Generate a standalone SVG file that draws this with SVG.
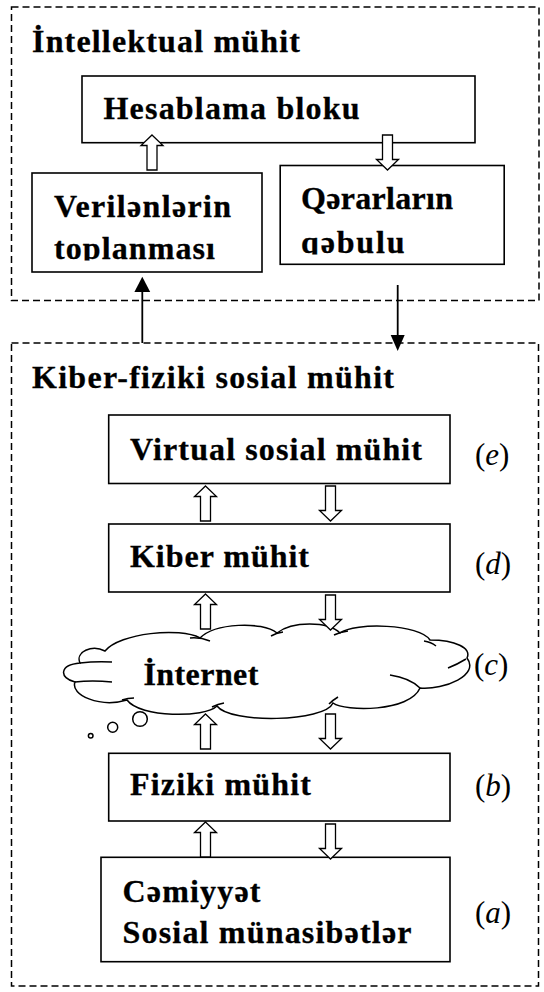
<svg xmlns="http://www.w3.org/2000/svg" xmlns:xlink="http://www.w3.org/1999/xlink" width="544" height="992" viewBox="0 0 544 992">
<style>
.bg{fill:#fff}
.box{fill:#fff;stroke:#000;stroke-width:1.6}
.dash{fill:none;stroke:#000;stroke-width:1.5;stroke-dasharray:7 4}
.t{font-family:'Liberation Serif','Times New Roman',serif;font-weight:bold;font-size:32px;fill:#000;stroke:#000;stroke-width:0.3}
.lab{font-family:'Liberation Serif','Times New Roman',serif;font-size:31px;fill:#000}
.lab tspan{font-style:italic}
.hollow{fill:#fff;stroke:#000;stroke-width:1.3;stroke-linejoin:miter}
.line{fill:none;stroke:#000;stroke-width:1.8}
.head{fill:#000}
.cloud{fill:#fff;stroke:#000;stroke-width:1.5}
.hook{fill:none;stroke:#000;stroke-width:1.5}
</style>
<defs>
<path id="up" d="M0,0 L11,10.5 L5,10.5 L5,35 L-5,35 L-5,10.5 L-11,10.5 Z"/>
<path id="down" d="M-5,0 L5,0 L5,24.5 L11,24.5 L0,35 L-11,24.5 L-5,24.5 Z"/>
<clipPath id="clipV"><rect x="30" y="170" width="235" height="90.5"/></clipPath>
<clipPath id="clipQ"><rect x="278" y="160" width="230" height="94.5"/></clipPath>
</defs>
<rect class="bg" x="0" y="0" width="544" height="992"/>

<g id="intellektual-muhit">
<rect class="dash" x="11.5" y="7" width="527.5" height="293.5"/>
<text class="t" x="32" y="52" textLength="268" lengthAdjust="spacing">İntellektual mühit</text>
</g>

<g id="hesablama-bloku">
<rect class="box" x="82" y="76" width="393" height="66.7"/>
<text class="t" x="103.5" y="119.3" textLength="256" lengthAdjust="spacing">Hesablama bloku</text>
</g>

<g id="verilenlerin-toplanmasi">
<rect class="box" x="32" y="173" width="230" height="99"/>
<text class="t" x="54" y="216.7" textLength="177" lengthAdjust="spacing">Verilənlərin</text>
<text class="t" x="54" y="259" textLength="161" lengthAdjust="spacing" clip-path="url(#clipV)">toplanması</text>
</g>

<g id="qerarlarin-qebulu">
<rect class="box" x="280.2" y="165.5" width="224" height="98.8"/>
<text class="t" x="301" y="209.3" textLength="152" lengthAdjust="spacing">Qərarların</text>
<text class="t" x="301" y="252.5" textLength="103.5" lengthAdjust="spacing" clip-path="url(#clipQ)">qəbulu</text>
</g>

<g id="kiber-fiziki-sosial-muhit">
<rect class="dash" x="11.5" y="343" width="527" height="643"/>
<text class="t" x="32" y="388.3" textLength="362" lengthAdjust="spacing">Kiber-fiziki sosial mühit</text>
</g>

<g id="virtual-sosial-muhit">
<rect class="box" x="108.7" y="415" width="341.3" height="68.5"/>
<text class="t" x="130" y="459.5" textLength="292" lengthAdjust="spacing">Virtual sosial mühit</text>
<text class="lab" x="475" y="465">(<tspan>e</tspan>)</text>
</g>

<g id="kiber-muhit">
<rect class="box" x="108.7" y="524" width="341.3" height="68"/>
<text class="t" x="130" y="567.3" textLength="179" lengthAdjust="spacing">Kiber mühit</text>
<text class="lab" x="475" y="574">(<tspan>d</tspan>)</text>
</g>

<g id="internet">
<path class="cloud" d="M80,663 C75,652 92,644 105,651 C120,633 180,627 200,638 C215,623 262,621 277,633 C292,621 328,621 340,633 C355,622 420,624 430,640 C455,640 472,648 467,658 C480,675 445,690 420,688 C410,712 345,712 333,703 C325,722 230,724 217,706 C205,718 140,718 127,700 C100,708 70,695 75,682 C59,678 59,665 80,663 Z"/>
<path class="hook" d="M190,638 Q200,637 210,641 M271,636 Q276,633 283,632 M334,635 Q340,632 348,631 M424,641 Q431,642 436,646 M448,668 Q458,664 466,659 M390,675 Q410,678 420,688 M329,704 Q333,700 338,697 M212,707 Q218,704 224,703 M122,700 Q128,698 134,698 M80,663 Q96,661 112,662 M75,682 Q92,680 112,682"/>
<circle class="cloud" cx="140" cy="719" r="7.3"/>
<circle class="cloud" cx="112.7" cy="727.3" r="5"/>
<circle class="cloud" cx="90.7" cy="735.7" r="2.3"/>
<text class="t" x="143.4" y="685" textLength="115" lengthAdjust="spacing">İnternet</text>
<text class="lab" x="474" y="675">(<tspan>c</tspan>)</text>
</g>

<g id="fiziki-muhit">
<rect class="box" x="108.7" y="753.3" width="341.3" height="67.7"/>
<text class="t" x="130" y="795" textLength="181" lengthAdjust="spacing">Fiziki mühit</text>
<text class="lab" x="475" y="796">(<tspan>b</tspan>)</text>
</g>

<g id="cemiyyet">
<rect class="box" x="101" y="857.3" width="349" height="104.4"/>
<text class="t" x="122.5" y="901.7" textLength="138" lengthAdjust="spacing">Cəmiyyət</text>
<text class="t" x="122.5" y="943" textLength="289" lengthAdjust="spacing">Sosial münasibətlər</text>
<text class="lab" x="475" y="923">(<tspan>a</tspan>)</text>
</g>

<g id="connectors">
<use xlink:href="#up" href="#up" class="hollow" x="152" y="135"/>
<use xlink:href="#down" href="#down" class="hollow" x="387.5" y="135"/>
<use xlink:href="#up" href="#up" class="hollow" x="205.5" y="486"/>
<use xlink:href="#down" href="#down" class="hollow" x="330.5" y="486"/>
<use xlink:href="#up" href="#up" class="hollow" x="205.5" y="594"/>
<use xlink:href="#down" href="#down" class="hollow" x="330.5" y="595"/>
<use xlink:href="#up" href="#up" class="hollow" x="205.5" y="714"/>
<use xlink:href="#down" href="#down" class="hollow" x="330.5" y="714"/>
<use xlink:href="#up" href="#up" class="hollow" x="205.5" y="822"/>
<use xlink:href="#down" href="#down" class="hollow" x="330.5" y="824"/>
<line class="line" x1="142.3" y1="343" x2="142.3" y2="290"/>
<polygon class="head" points="142.3,276.7 150.2,292 134.4,292"/>
<line class="line" x1="397.7" y1="285" x2="397.7" y2="337"/>
<polygon class="head" points="390.7,335 404.7,335 397.7,351"/>
</g>
</svg>
